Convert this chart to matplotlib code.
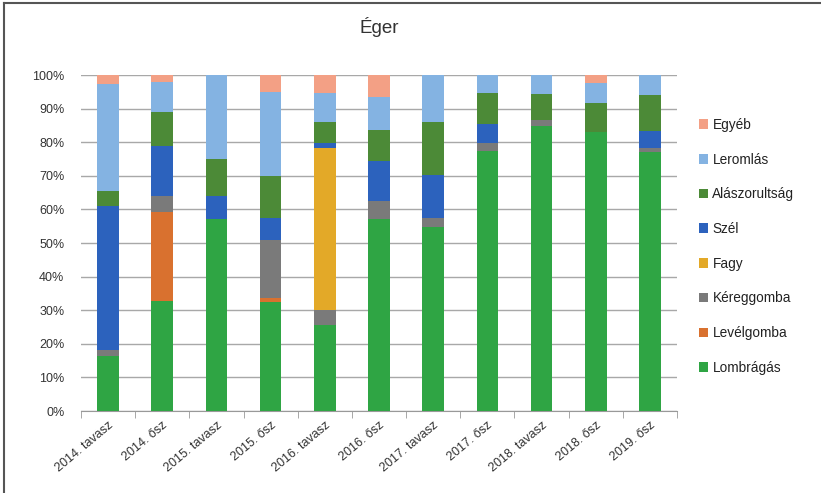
import numpy as np
import matplotlib
matplotlib.use("Agg")
import matplotlib.pyplot as plt
from matplotlib.lines import Line2D

plt.rcParams['font.family'] = ['Liberation Sans', 'DejaVu Sans']

# Categories (seasons)
categories = ["2014. tavasz", "2014. ősz", "2015. tavasz", "2015. ősz", "2016. tavasz",
              "2016. ősz", "2017. tavasz", "2017. ősz", "2018. tavasz", "2018. ősz", "2019. ősz"]

# Share of damage causes (%), bottom to top
lombragas     = [16.3, 32.7, 57.2, 32.4, 25.5, 57.1, 54.7, 77.5, 84.9, 82.9, 77.0]
levelgomba    = [0.0, 26.5, 0.0, 1.2, 0.0, 0.0, 0.0, 0.0, 0.0, 0.0, 0.0]
kereggomba    = [2.0, 4.7, 0.0, 17.4, 4.5, 5.3, 2.6, 2.4, 1.7, 0.0, 1.2]
fagy          = [0.0, 0.0, 0.0, 0.0, 48.2, 0.0, 0.0, 0.0, 0.0, 0.0, 0.0]
szel          = [42.6, 15.1, 6.7, 6.4, 1.6, 11.9, 12.8, 5.6, 0.0, 0.0, 5.2]
alaszorultsag = [4.6, 9.9, 11.2, 12.5, 6.1, 9.2, 15.8, 9.1, 7.6, 8.9, 10.6]
leromlas      = [31.8, 8.9, 24.9, 25.1, 8.6, 9.9, 14.1, 5.4, 5.8, 5.9, 6.0]
egyeb         = [2.7, 2.2, 0.0, 5.0, 5.5, 6.6, 0.0, 0.0, 0.0, 2.3, 0.0]

series = [
    ("Lombrágás", lombragas, "#2fa544"),
    ("Levélgomba", levelgomba, "#d9712f"),
    ("Kéreggomba", kereggomba, "#7a7a7a"),
    ("Fagy", fagy, "#e3a928"),
    ("Szél", szel, "#2c62bd"),
    ("Alászorultság", alaszorultsag, "#4c8a37"),
    ("Leromlás", leromlas, "#84b3e2"),
    ("Egyéb", egyeb, "#f3a085"),
]

fig = plt.figure(figsize=(8.21, 4.93), dpi=100)
ax = fig.add_axes([81 / 821, 1 - 411 / 493, (677 - 81) / 821, (411 - 75) / 493])

x = np.arange(len(categories))
bottom = np.zeros(len(categories))
handles = []
for name, vals, color in series:
    vals = np.array(vals)
    b = ax.bar(x, vals, width=0.4, bottom=bottom, color=color, label=name, zorder=3)
    bottom += vals
    handles.append(b)

ax.set_xlim(-0.5, len(categories) - 0.5)
ax.set_ylim(0, 100)
ax.set_yticks(np.arange(0, 101, 10))
ax.set_yticklabels([f"{v}%" for v in range(0, 101, 10)], fontsize=9, color="#333333")
ax.yaxis.grid(True, color="#a8a8a8", linewidth=1, zorder=0)
ax.tick_params(axis="y", length=0, pad=12)

ax.set_xticks(x)
ax.set_xticklabels(categories, rotation=40, ha="right", rotation_mode="anchor",
                   fontsize=9, color="#333333")
ax.tick_params(axis="x", length=0, pad=6)
ax.set_xticks(np.arange(-0.5, len(categories), 1), minor=True)
ax.tick_params(axis="x", which="minor", length=5, color="#999999")

for s in ["top", "right", "left"]:
    ax.spines[s].set_visible(False)
ax.spines["bottom"].set_color("#999999")

ax.set_title("Éger", fontsize=13.5, color="#333333", pad=30)

leg = ax.legend(handles[::-1], [s[0] for s in series][::-1], loc="center left",
                bbox_to_anchor=(1.0, 0.49), frameon=False, fontsize=9.8,
                handlelength=0.7, handleheight=0.7, handletextpad=0.3,
                labelspacing=1.52, borderaxespad=1.2)
for t in leg.get_texts():
    t.set_color("#222222")

# outer frame (top and left edges)
fig.add_artist(Line2D([4 / 821, 4 / 821], [0, 1 - 3 / 493], transform=fig.transFigure,
                      color="#555555", linewidth=1.5))
fig.add_artist(Line2D([4 / 821, 1], [1 - 3 / 493, 1 - 3 / 493], transform=fig.transFigure,
                      color="#555555", linewidth=1.5))

fig.savefig("out.png", dpi=100)
